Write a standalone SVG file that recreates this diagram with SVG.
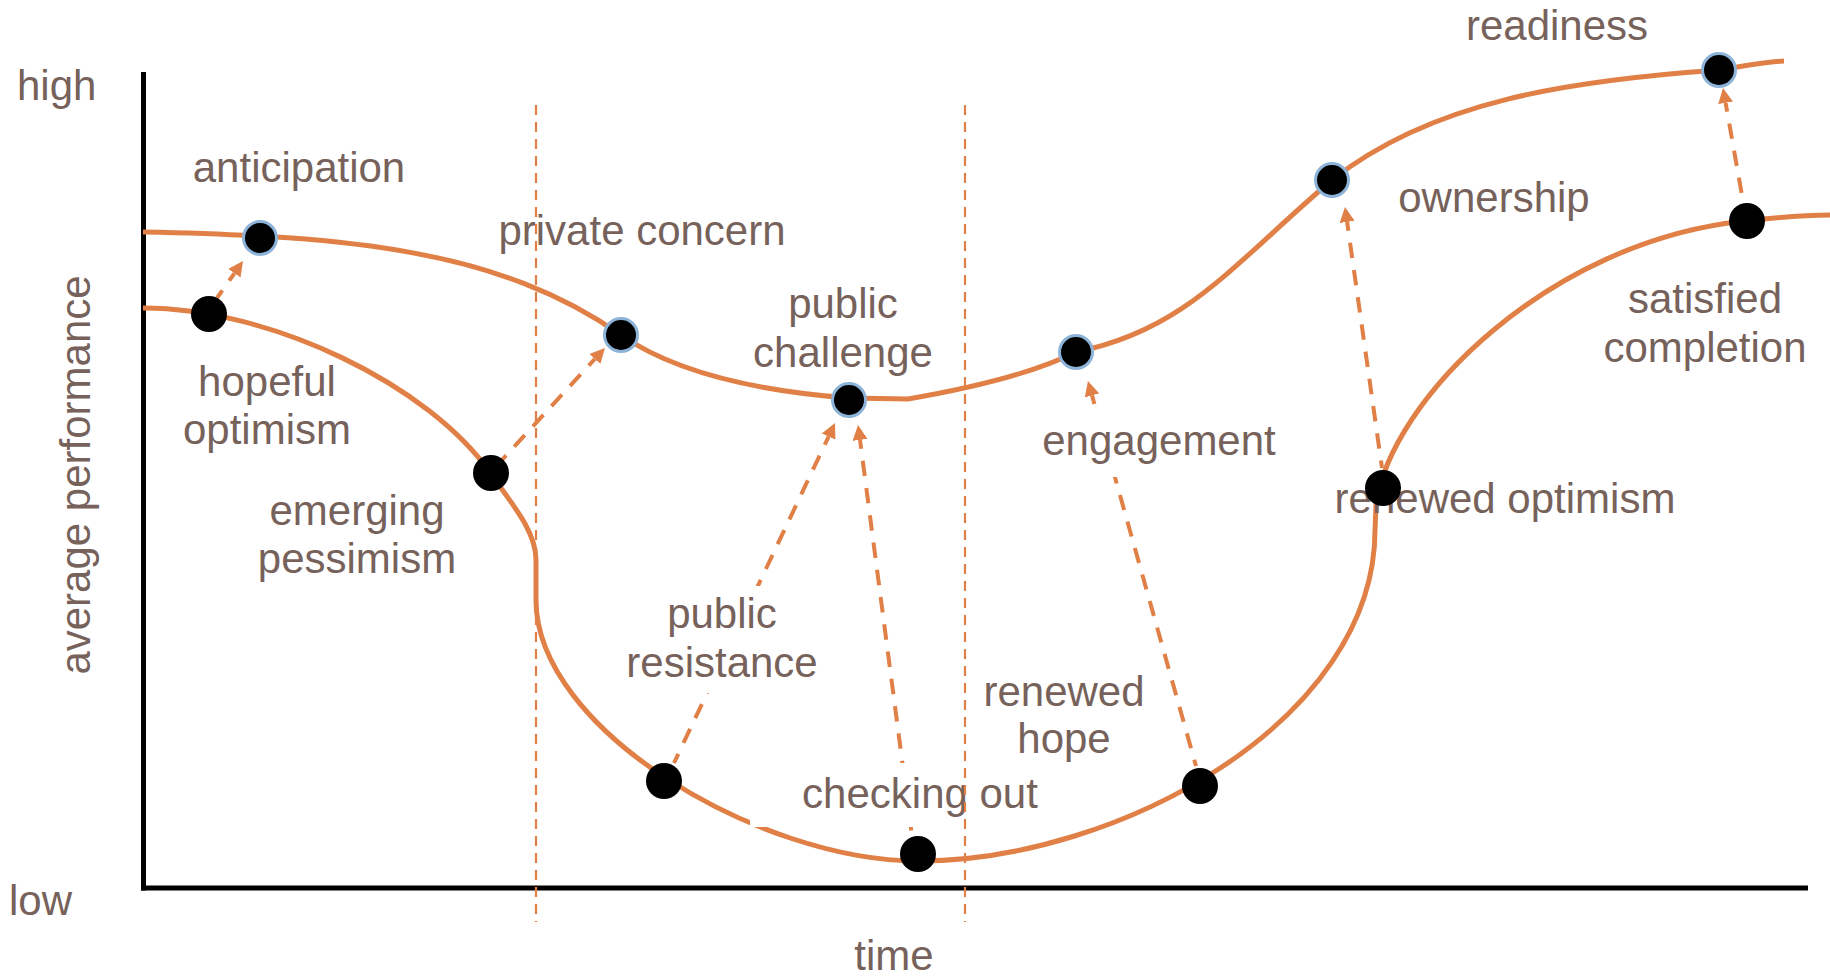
<svg xmlns="http://www.w3.org/2000/svg" width="1830" height="979" viewBox="0 0 1830 979">
  <defs>
    <style>
      .t { font-family: "Liberation Sans", Arial, sans-serif; font-size: 42px; fill: #76625B; text-anchor: middle; }
      .ts { font-family: "Liberation Sans", Arial, sans-serif; font-size: 42px; fill: #76625B; }
      .curve { fill: none; stroke: #E08046; stroke-width: 5; stroke-linejoin: round; }
      .arrow { fill: none; stroke: #E08046; stroke-width: 4; stroke-dasharray: 15.5 12; stroke-dashoffset: 6.5; marker-start: url(#ah); }
      .vdash { fill: none; stroke: #E08046; stroke-width: 2.2; stroke-dasharray: 10 7; }
      .axis { stroke: #000; stroke-width: 5; fill: none; }
      .up { fill: #000; stroke: #8DB3D9; stroke-width: 3; }
      .lo { fill: #000; }
      .box { fill: #fff; }
    </style>
    <marker id="ah" markerUnits="userSpaceOnUse" markerWidth="15" markerHeight="15" refX="0" refY="7.5" orient="auto-start-reverse" viewBox="0 0 15 15">
      <path d="M0,0 L15,7.5 L0,15 z" fill="#E08046"/>
    </marker>
  </defs>

  <g id="axes">
    <line class="axis" x1="143.5" y1="72" x2="143.5" y2="890.5"/>
    <line class="axis" x1="141" y1="888" x2="1808" y2="888"/>
    <text class="ts" x="17" y="100">high</text>
    <text class="ts" x="9" y="915">low</text>
    <text class="t" x="894" y="970">time</text>
    <text class="t" transform="translate(90,475) rotate(-90)">average performance</text>
  </g>

  <g id="curves">
    <path class="curve" d="M143,232 C350,236 500,250 621,335 C680,376 770,392 849,398 L908,399 C960,390 1030,375 1076,352 C1186,330 1232,265 1332,180 C1432,101 1569,80.5 1719,70 C1740,67 1760,62 1784,61"/>
    <path class="curve" d="M143,308 C270,308 430,385 491,474 C510,502 536,530 536,560 L536,600 C536,730 760,861 918,861 C1120,861 1375,720 1375,530 L1376,505 C1390,400 1550,240 1746,221 C1780,217 1805,215 1830,215"/>
  </g>

  <g id="connectors">
    <path class="arrow" d="M234.4,273.3 L217,298"/>
    <path class="arrow" d="M594.8,359 L502,460"/>
    <path class="arrow" d="M828.6,436.6 L674,763"/>
    <path class="arrow" d="M860,439.9 L912,836"/>
    <path class="arrow" d="M1092,395.4 L1196,766"/>
    <path class="arrow" d="M1347.1,221.9 L1382,468"/>
    <path class="arrow" d="M1725.6,102.8 L1743,201"/>
  </g>

  <g id="node-anticipation">
    <text class="t" x="299" y="182">anticipation</text>
    <circle class="up" cx="260" cy="238" r="16.5"/>
  </g>
  <g id="node-hopeful-optimism">
    <text class="t" x="267" y="396">hopeful</text>
    <text class="t" x="267" y="444">optimism</text>
    <circle class="lo" cx="209" cy="314" r="18"/>
  </g>
  <g id="node-private-concern">
    <text class="t" x="642" y="245">private concern</text>
    <circle class="up" cx="621" cy="335" r="16.5"/>
  </g>
  <g id="node-emerging-pessimism">
    <text class="t" x="357" y="525">emerging</text>
    <text class="t" x="357" y="573">pessimism</text>
    <circle class="lo" cx="491" cy="473" r="18"/>
  </g>
  <g id="node-public-challenge">
    <text class="t" x="843" y="318">public</text>
    <text class="t" x="843" y="367">challenge</text>
    <circle class="up" cx="849" cy="400" r="16.5"/>
  </g>
  <g id="node-public-resistance">
    <rect class="box" x="625" y="586" width="196" height="107"/>
    <text class="t" x="722" y="628">public</text>
    <text class="t" x="722" y="677">resistance</text>
    <circle class="lo" cx="664" cy="781" r="18"/>
  </g>
  <g id="node-checking-out">
    <rect class="box" x="750" y="763" width="290" height="64"/>
    <text class="t" x="920" y="808">checking out</text>
    <circle class="lo" cx="918" cy="854" r="18"/>
  </g>
  <g id="node-engagement">
    <rect class="box" x="1040" y="411" width="240" height="66"/>
    <text class="t" x="1159" y="455">engagement</text>
    <circle class="up" cx="1076" cy="352" r="16.5"/>
  </g>
  <g id="node-renewed-hope">
    <text class="t" x="1064" y="706">renewed</text>
    <text class="t" x="1064" y="753">hope</text>
    <circle class="lo" cx="1200" cy="786" r="18"/>
  </g>
  <g id="node-ownership">
    <text class="t" x="1494" y="212">ownership</text>
    <circle class="up" cx="1332" cy="180" r="16.5"/>
  </g>
  <g id="node-renewed-optimism">
    <text class="t" x="1505" y="513">renewed optimism</text>
    <circle class="lo" cx="1383" cy="488" r="18"/>
  </g>
  <g id="node-readiness">
    <text class="t" x="1557" y="40">readiness</text>
    <circle class="up" cx="1719" cy="70" r="16.5"/>
  </g>
  <g id="node-satisfied-completion">
    <text class="t" x="1705" y="313">satisfied</text>
    <text class="t" x="1705" y="362">completion</text>
    <circle class="lo" cx="1747" cy="221" r="18"/>
  </g>

  <g id="phase-dividers">
    <line class="vdash" x1="536" y1="105" x2="536" y2="922"/>
    <line class="vdash" x1="965" y1="105" x2="965" y2="922"/>
  </g>
</svg>
